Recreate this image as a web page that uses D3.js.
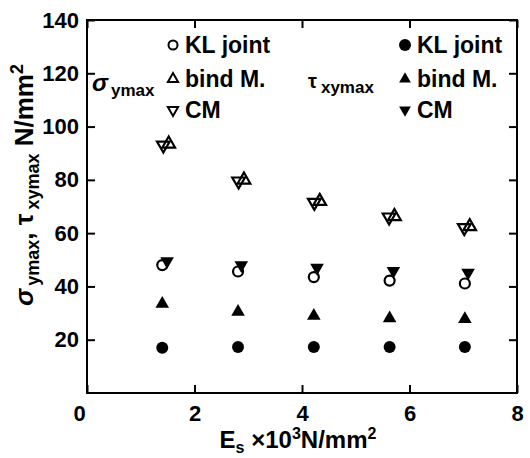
<!DOCTYPE html>
<html><head><meta charset="utf-8">
<script src="https://cdn.jsdelivr.net/npm/d3@7"></script>
<style>
body{margin:0;background:#fff;}
text{font-family:"Liberation Sans",Arial,sans-serif;font-weight:bold;fill:#000;}
</style></head>
<body><svg id="c" width="530" height="458"></svg>
<script>
// ---- data ----
const xTicks = [0, 2, 4, 6, 8];
const yTicks = [20, 40, 60, 80, 100, 120, 140];
// sigma_ymax (open symbols)
const xSigKL   = [1.40, 2.81, 4.22, 5.63, 7.03];
const sigKL    = [48.0, 45.6, 43.5, 42.2, 41.1];
const xSigBind = [1.52, 2.92, 4.33, 5.72, 7.12];
const sigBind  = [93.5, 80.0, 72.0, 66.3, 62.5];
const xSigCM   = [1.42, 2.82, 4.23, 5.62, 7.02];
const sigCM    = [93.0, 79.5, 71.5, 66.0, 62.0];
// tau_xymax (filled symbols)
const xTauKL   = [1.40, 2.81, 4.22, 5.63, 7.03];
const tauKL    = [17.0, 17.3, 17.3, 17.3, 17.3];
const xTauBind = [1.40, 2.81, 4.22, 5.63, 7.03];
const tauBind  = [33.5, 30.5, 29.0, 28.0, 27.7];
const xTauCM   = [1.49, 2.87, 4.28, 5.70, 7.09];
const tauCM    = [49.5, 48.0, 47.0, 45.8, 45.2];

const svg = d3.select("#c");
const L = 87, R = 517, T = 20, B = 393;
const x = d3.scaleLinear().domain([0, 8]).range([L, R]);
const y = d3.scaleLinear().domain([0, 140]).range([B, T]);

// frame
svg.append("rect").attr("x", L).attr("y", T).attr("width", R - L).attr("height", B - T)
  .attr("fill", "none").attr("stroke", "#000").attr("stroke-width", 2);

// axes with inward ticks
const fs = 22;
const gB = svg.append("g").attr("transform", `translate(0,${B})`)
  .call(d3.axisBottom(x).tickValues(xTicks).tickSizeInner(-8).tickSizeOuter(0).tickPadding(12));
const gT = svg.append("g").attr("transform", `translate(0,${T})`)
  .call(d3.axisTop(x).tickValues(xTicks).tickSizeInner(-8).tickSizeOuter(0).tickFormat(""));
const gL = svg.append("g").attr("transform", `translate(${L},0)`)
  .call(d3.axisLeft(y).tickValues(yTicks).tickSizeInner(-8).tickSizeOuter(0).tickPadding(12));
const gR = svg.append("g").attr("transform", `translate(${R},0)`)
  .call(d3.axisRight(y).tickValues(yTicks).tickSizeInner(-8).tickSizeOuter(0).tickFormat(""));
[gB, gT, gL, gR].forEach(g => {
  g.select(".domain").remove();
  g.selectAll(".tick line").attr("stroke", "#000").attr("stroke-width", 2);
  g.selectAll(".tick text").attr("font-size", fs).attr("font-family", "Liberation Sans, Arial").attr("font-weight", "bold").attr("fill", "#000");
});
gB.selectAll(".tick").filter(d => d === 0).select("text").attr("dx", -8);
gL.selectAll(".tick text").attr("dx", 4);

// symbols
const tri = d3.symbol().type(d3.symbolTriangle);
function plot(xs, ys, kind, filled, size) {
  const g = svg.append("g");
  xs.forEach((xv, i) => {
    const px = x(xv), py = y(ys[i]);
    let el;
    if (kind === "circle") {
      el = g.append("circle").attr("cx", px).attr("cy", py).attr("r", filled ? 6 : 5);
    } else {
      el = g.append("path").attr("d", tri.size(size)())
        .attr("transform", `translate(${px},${py}) rotate(${kind === "down" ? 180 : 0})`);
    }
    if (filled) el.attr("fill", "#000");
    else el.attr("fill", "none").attr("stroke", "#000").attr("stroke-width", 2.2);
  });
}
plot(xSigBind, sigBind, "up", false, 70);
plot(xSigCM, sigCM, "down", false, 70);
plot(xTauCM, tauCM, "down", true, 80);
plot(xSigKL, sigKL, "circle", false);
plot(xTauBind, tauBind, "up", true, 80);
plot(xTauKL, tauKL, "circle", true);

// legends
const legFs = 23;
function legend(mx, items, filled) {
  items.forEach((it, i) => {
    const my = [45, 79, 110][i];
    let el;
    if (it.k === "circle") el = svg.append("circle").attr("cx", mx).attr("cy", my).attr("r", filled ? 6 : 4.5);
    else el = svg.append("path").attr("d", tri.size(filled ? 60 : 45)())
      .attr("transform", `translate(${mx},${my}) rotate(${it.k === "down" ? 180 : 0})`);
    if (filled) el.attr("fill", "#000");
    else el.attr("fill", "none").attr("stroke", "#000").attr("stroke-width", 2);
    svg.append("text").attr("x", mx + 12).attr("y", my + 8).attr("font-size", legFs).text(it.t);
  });
}
legend(173, [{k: "circle", t: "KL joint"}, {k: "up", t: "bind M."}, {k: "down", t: "CM"}], false);
legend(405, [{k: "circle", t: "KL joint"}, {k: "up", t: "bind M."}, {k: "down", t: "CM"}], true);

const s1 = svg.append("text").attr("x", 92).attr("y", 91).attr("font-size", 24);
s1.append("tspan").attr("font-style", "italic").text("σ");
s1.append("tspan").attr("font-size", 17).attr("dy", 5).attr("dx", 3).text("ymax");
const s2 = svg.append("text").attr("x", 308).attr("y", 88).attr("font-size", 20);
s2.append("tspan").text("τ");
s2.append("tspan").attr("font-size", 17).attr("dy", 5).attr("dx", 4).text("xymax");

// x axis title
const xt = svg.append("text").attr("x", 298).attr("y", 448).attr("text-anchor", "middle").attr("font-size", 24);
xt.append("tspan").text("E");
xt.append("tspan").attr("font-size", 16).attr("dy", 5).text("s");
xt.append("tspan").attr("dy", -5).text(" ×10");
xt.append("tspan").attr("font-size", 16).attr("dy", -9).text("3");
xt.append("tspan").attr("dy", 9).text("N/mm");
xt.append("tspan").attr("font-size", 16).attr("dy", -9).text("2");

// y axis title
const yt = svg.append("text").attr("transform", "translate(33,185) rotate(-90)")
  .attr("text-anchor", "middle").attr("font-size", 26);
yt.append("tspan").attr("font-style", "italic").text("σ");
yt.append("tspan").attr("font-size", 18).attr("dy", 6).attr("dx", 3).text("ymax");
yt.append("tspan").attr("dy", -6).text(", τ");
yt.append("tspan").attr("font-size", 18).attr("dy", 6).attr("dx", 4).text("xymax");
yt.append("tspan").attr("dy", -6).text(" N/mm");
yt.append("tspan").attr("font-size", 18).attr("dy", -10).text("2");
</script></body></html>
